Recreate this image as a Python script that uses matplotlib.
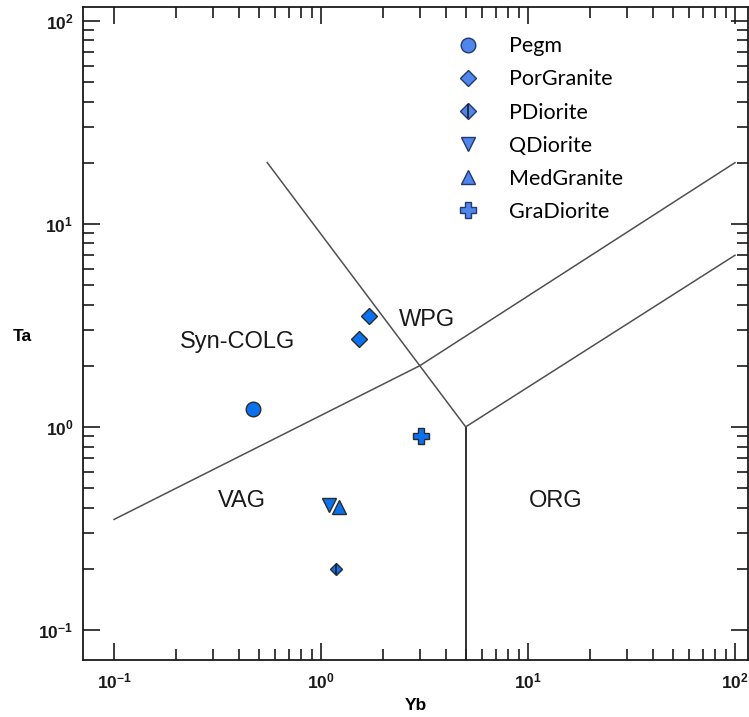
import matplotlib
matplotlib.use("Agg")
import matplotlib.pyplot as plt
from matplotlib.lines import Line2D
from matplotlib.ticker import FixedLocator, NullFormatter
import numpy as np

plt.rcParams['font.family'] = ['Liberation Sans', 'DejaVu Sans']
plt.rcParams['mathtext.fontset'] = 'custom'
plt.rcParams['mathtext.rm'] = 'Liberation Sans'
plt.rcParams['mathtext.bf'] = 'Liberation Sans:bold'

# ------------------- data -------------------
samples = ["Pegm", "PorGranite", "PDiorite", "QDiorite", "MedGranite", "GraDiorite"]
yb_vals = {
    "Pegm": [0.47],
    "PorGranite": [1.70, 1.52],
    "PDiorite": [1.18],
    "QDiorite": [1.09],
    "MedGranite": [1.22],
    "GraDiorite": [3.05],
}
ta_vals = {
    "Pegm": [1.22],
    "PorGranite": [3.5, 2.7],
    "PDiorite": [0.20],
    "QDiorite": [0.41],
    "MedGranite": [0.405],
    "GraDiorite": [0.90],
}

# Pearce et al. (1984) field boundaries (Yb, Ta)
syn_vag_x = [0.1, 3.0, 100.0]
syn_vag_y = [0.35, 2.0, 20.0]
wpg_vag_x = [0.55, 5.0]
wpg_vag_y = [20.0, 1.0]
vag_org_x = [5.0, 5.0]
vag_org_y = [1.0, 0.05]
org_wpg_x = [5.0, 100.0]
org_wpg_y = [1.0, 7.0]

field_names = ["Syn-COLG", "WPG", "VAG", "ORG"]
field_x = [0.393, 3.26, 0.415, 13.6]
field_y = [2.62, 3.37, 0.432, 0.432]

markers = {"Pegm": "o", "PorGranite": "D", "PDiorite": "D",
           "QDiorite": "v", "MedGranite": "^", "GraDiorite": "P"}
msizes = {"Pegm": 10.5, "PorGranite": 8, "PDiorite": 6,
          "QDiorite": 10.5, "MedGranite": 10.5, "GraDiorite": 11}

pt_color = "#0a72ee"
pt_edge = "#2b2b2b"
lg_color = "#4f86ec"
lg_edge = "#23396e"

# ------------------- figure -------------------
fig = plt.figure(figsize=(7.49, 7.17), dpi=100)
ax = fig.add_axes([0.1108, 0.0795, 0.8879, 0.9105])
ax.set_xscale("log")
ax.set_yscale("log")
ax.set_xlim(0.0708, 115.6)
ax.set_ylim(0.0711, 116.6)

ax.plot(syn_vag_x, syn_vag_y, color="#505050", lw=1.1)
ax.plot(wpg_vag_x, wpg_vag_y, color="#505050", lw=1.1)
ax.plot(vag_org_x, vag_org_y, color="#202020", lw=1.3)
ax.plot(org_wpg_x, org_wpg_y, color="#505050", lw=1.1)

for name, fx, fy in zip(field_names, field_x, field_y):
    ax.text(fx, fy, name, fontsize=17, ha="center", va="center", color="#1a1a1a")

for s in samples:
    ax.plot(yb_vals[s], ta_vals[s], ls="none", marker=markers[s], ms=msizes[s],
            mfc=pt_color, mec=pt_edge, mew=1.0, zorder=3)
    if s == "PDiorite":
        ax.plot(yb_vals[s], ta_vals[s], ls="none", marker="|", ms=msizes[s] * 1.3,
                mec="#1a1a1a", mew=1.2, zorder=4)

# legend (drawn with lighter blue like the original)
handles = []
for s in samples:
    size = 8 if s == "PDiorite" else msizes[s]
    h = Line2D([], [], ls="none", marker=markers[s], ms=size,
               mfc=lg_color, mec=lg_edge, mew=1.0)
    if s == "PDiorite":
        h = (h, Line2D([], [], ls="none", marker="|", ms=size * 1.3,
                       mec="#1a1a1a", mew=1.2))
    handles.append(h)
ax.legend(handles, samples, loc="upper left", bbox_to_anchor=(0.526, 0.985),
          frameon=False, labelspacing=0.61, handletextpad=1.16, handlelength=1.5,
          prop={"family": ["Lato", "DejaVu Sans"], "size": 15.5})

# ticks
major = [0.1, 1, 10, 100]
minor = [k * 10.0 ** e for e in (-1, 0, 1) for k in range(2, 10)]
labels = [r"$\mathbf{10^{-1}}$", r"$\mathbf{10^{0}}$", r"$\mathbf{10^{1}}$", r"$\mathbf{10^{2}}$"]
for axis in (ax.xaxis, ax.yaxis):
    axis.set_major_locator(FixedLocator(major))
    axis.set_minor_locator(FixedLocator(minor))
    axis.set_minor_formatter(NullFormatter())
ax.set_xticklabels(labels)
ax.set_yticklabels(labels)
ax.tick_params(which="both", direction="in", top=True, right=True, width=1.2,
               labelsize=12.5, colors="#1a1a1a")
ax.tick_params(axis="x", which="major", length=12, pad=8)
ax.tick_params(axis="y", which="major", length=12, pad=7)
ax.tick_params(which="minor", length=8)
for sp in ax.spines.values():
    sp.set_linewidth(1.3)
    sp.set_color("#1a1a1a")

ax.set_xlabel("Yb", fontsize=12.5, fontweight="bold", va="center")
ax.set_ylabel("Ta", fontsize=12.5, fontweight="bold", rotation=0, va="center", ha="center")
ax.xaxis.set_label_coords(0.5, -0.069)
ax.yaxis.set_label_coords(-0.0917, 0.495)

fig.savefig("out.png", dpi=100)
